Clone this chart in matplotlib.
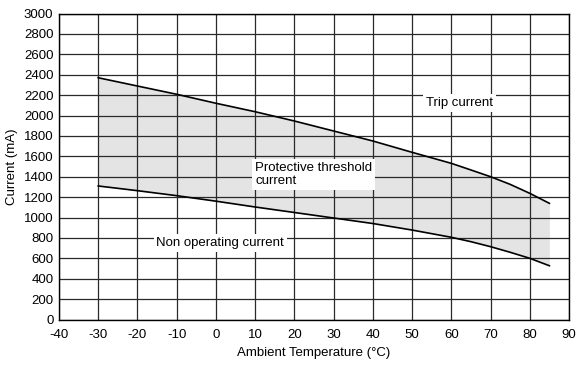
import matplotlib
matplotlib.use("Agg")
import matplotlib.pyplot as plt
import numpy as np

temps = [-30, -20, -10, 0, 10, 20, 30, 40, 50, 60, 65, 70, 75, 80, 85]
trip = [2370, 2289, 2208, 2120, 2037, 1946, 1848, 1750, 1639, 1531, 1466, 1400, 1325, 1237, 1139]
non_op = [1309, 1263, 1214, 1160, 1103, 1049, 995, 941, 877, 806, 763, 714, 659, 600, 527]
xticks = list(range(-40, 91, 10))
yticks = list(range(0, 3001, 200))

plt.rcParams['font.family'] = ['Liberation Sans', 'DejaVu Sans']
plt.rcParams['axes.unicode_minus'] = False
fig = plt.figure(figsize=(5.76, 3.65), dpi=100)
ax = fig.add_axes([59/576, 1-319.5/365, 510/576, 306/365])

fs = 9.5
ax.fill_between(temps, non_op, trip, color='#e4e4e4', lw=0, zorder=1)
ax.set_xlim(-40, 90)
ax.set_ylim(0, 3000)
ax.set_xticks(xticks)
ax.set_yticks(yticks)
ax.grid(True, color='#2a2a2a', lw=0.9, zorder=2)
ax.set_axisbelow(False)
ax.plot(temps, trip, color='black', lw=1.2, zorder=3)
ax.plot(temps, non_op, color='black', lw=1.2, zorder=3)
ax.tick_params(length=0, labelsize=fs)
ax.tick_params(axis='x', pad=7)
ax.tick_params(axis='y', pad=4)
for s in ax.spines.values():
    s.set_color('black'); s.set_linewidth(1.0); s.set_zorder(5)
ax.set_xlabel('Ambient Temperature (°C)', fontsize=fs, labelpad=4)
ax.set_ylabel('Current (mA)', fontsize=fs, labelpad=4)

bbox = dict(facecolor='white', edgecolor='none', pad=2)
ax.text(53.5, 2120, 'Trip current', fontsize=fs, va='center', ha='left', bbox=bbox, zorder=6)
ax.text(10, 1420, 'Protective threshold\ncurrent', fontsize=fs, va='center', ha='left',
        bbox=bbox, zorder=6, linespacing=1.1)
ax.text(-15.2, 750, 'Non operating current', fontsize=fs, va='center', ha='left', bbox=bbox, zorder=6)

fig.savefig('out.png', dpi=100)
